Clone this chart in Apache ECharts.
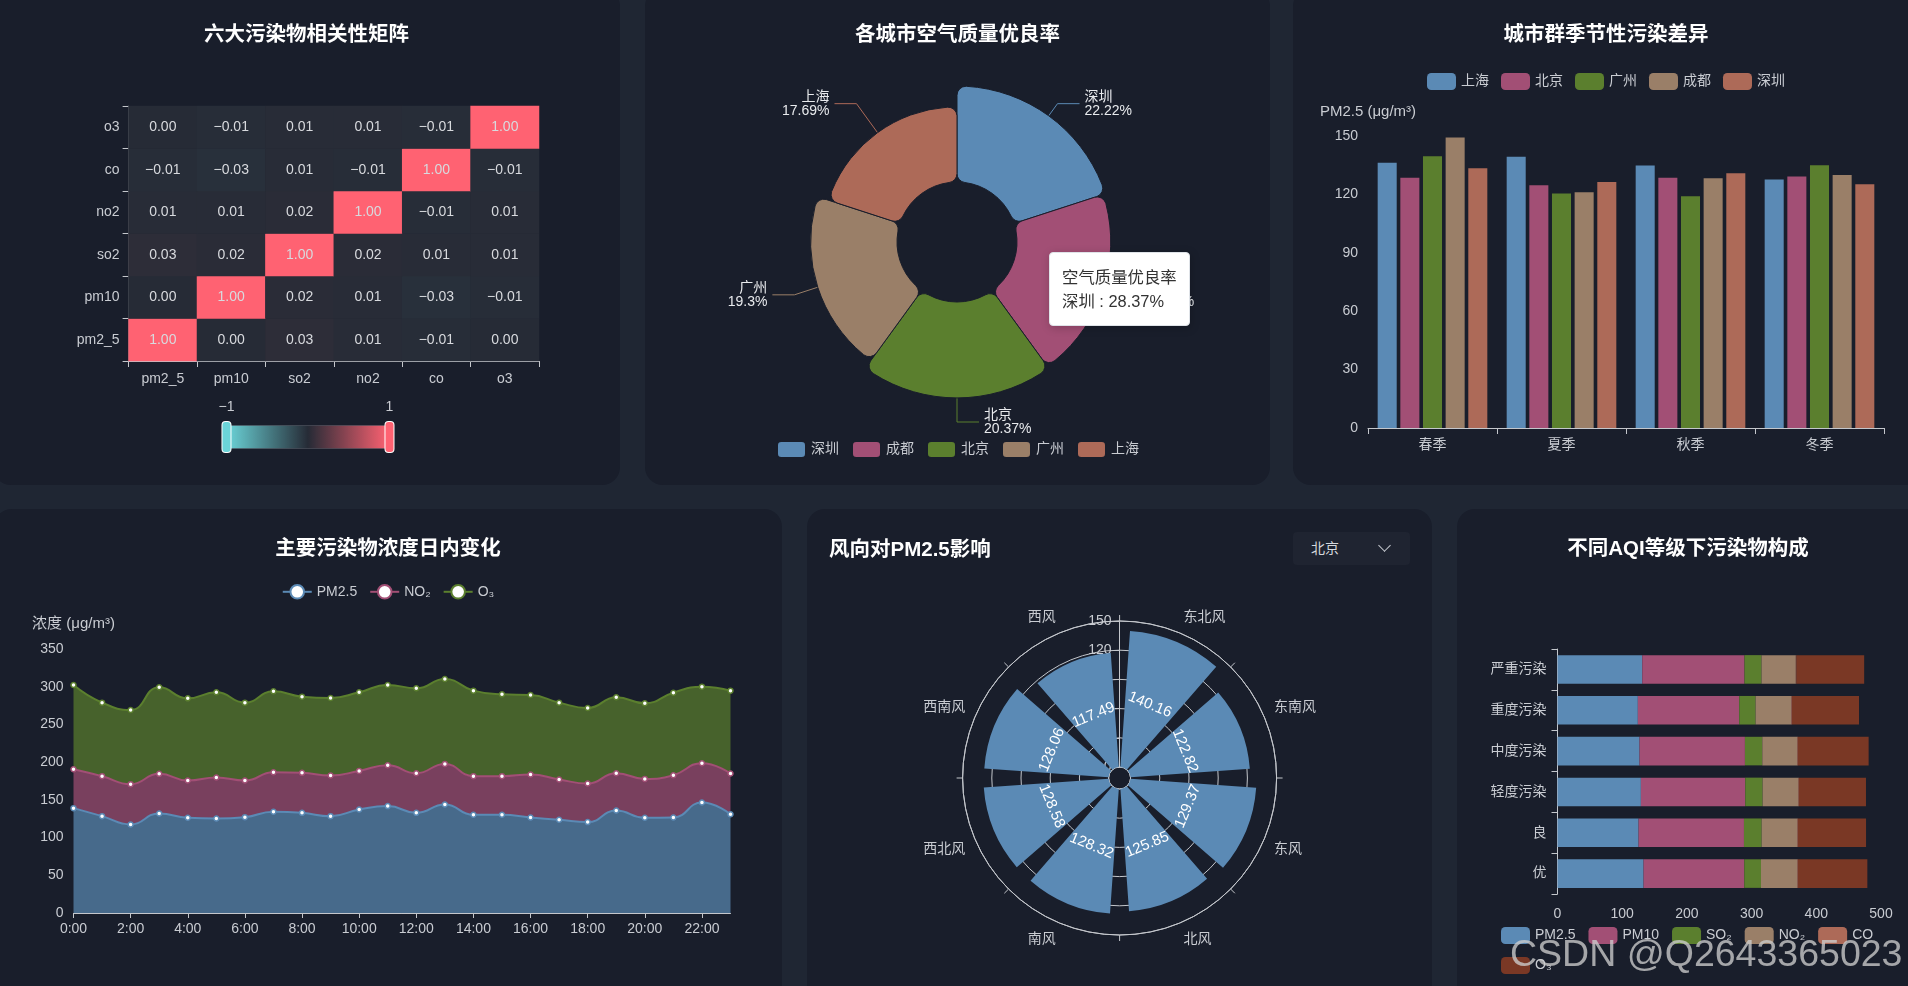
<!DOCTYPE html>
<html lang="zh">
<head>
<meta charset="UTF-8">
<title>空气质量看板</title>
<script src="https://cdn.jsdelivr.net/npm/echarts@6/dist/echarts.min.js"></script>
<style>
    * { margin: 0; padding: 0; box-sizing: border-box; }
    html, body { width: 100%; height: 100%; overflow: hidden; background: #1f2633; }
    body { font-family: "Liberation Sans", "Noto Sans CJK SC", sans-serif; }
    .panel { position: absolute; background: #191e2b; border-radius: 18px; overflow: hidden; }
    .chart { width: 100%; height: 100%; }
    #p1 { left: -7px; top: -12px; width: 627px; height: 497px; }
    #p2 { left: 645px; top: -12px; width: 625px; height: 497px; }
    #p3 { left: 1293px; top: -12px; width: 640px; height: 497px; }
    #season { width: 626px; }
    #p4 { left: -6px; top: 509px; width: 788px; height: 500px; }
    #p5 { left: 807px; top: 509px; width: 625px; height: 500px; }
    #p6 { left: 1457px; top: 509px; width: 496px; height: 500px; }
    #aqi { width: 462px; }
    .city-select {
        position: absolute; left: 486px; top: 23px; width: 117px; height: 33px;
        background: #1f2431; border-radius: 4px; color: #d5d8dd; font-size: 14px; line-height: 33px; padding-left: 18px;
    }
    .city-select i {
        position: absolute; right: 21px; top: 9px; width: 9px; height: 9px;
        border-right: 1px solid #c8ccd2; border-bottom: 1px solid #c8ccd2; transform: rotate(45deg);
    }
    .watermark {
        position: absolute; left: 1510px; top: 931px; font-size: 37.5px; line-height: 44px;
        color: rgba(205, 205, 205, 0.78); white-space: nowrap;
    }
</style>
</head>
<body>
<div class="panel" id="p1"><div class="chart" id="heat"></div></div>
<div class="panel" id="p2"><div class="chart" id="pie"></div></div>
<div class="panel" id="p3"><div class="chart" id="season"></div></div>
<div class="panel" id="p4"><div class="chart" id="daily"></div></div>
<div class="panel" id="p5"><div class="chart" id="wind"></div><div class="city-select">北京<i></i></div></div>
<div class="panel" id="p6"><div class="chart" id="aqi"></div></div>
<div class="watermark">CSDN @Q2643365023</div>

<script>
// 相关性矩阵，从 pm2_5 那一行开始往上
var pollutants = ['pm2_5', 'pm10', 'so2', 'no2', 'co', 'o3'];
var corrPm25 = [1.00, 0.00, 0.03, 0.01, -0.01, 0.00];
var corrPm10 = [0.00, 1.00, 0.02, 0.01, -0.03, -0.01];
var corrSo2 = [0.03, 0.02, 1.00, 0.02, 0.01, 0.01];
var corrNo2 = [0.01, 0.01, 0.02, 1.00, -0.01, 0.01];
var corrCo = [-0.01, -0.03, 0.01, -0.01, 1.00, -0.01];
var corrO3 = [0.00, -0.01, 0.01, 0.01, -0.01, 1.00];

// 优良率
var rateCities = ['深圳', '成都', '北京', '广州', '上海'];
var rateSizes = [22.22, 21.7, 22.2, 20.0, 17.4];
var rateLabels = ['22.22', '20.42', '20.37', '19.3', '17.69'];
var tipTitle = '空气质量优良率';
var tipText = '深圳&nbsp;:&nbsp;28.37%';

// 季节
var seasons = ['春季', '夏季', '秋季', '冬季'];
var seasonCities = ['上海', '北京', '广州', '成都', '深圳'];
var seasonShanghai = [136.2, 139.3, 134.8, 127.6];
var seasonBeijing = [128.6, 124.7, 128.6, 129.2];
var seasonGuangzhou = [139.6, 120.4, 119, 135];
var seasonChengdu = [149.2, 121.1, 128.3, 130];
var seasonShenzhen = [133.4, 126.4, 130.9, 125.2];

// 日内变化
var hours = ['0:00', '1:00', '2:00', '3:00', '4:00', '5:00', '6:00', '7:00', '8:00', '9:00', '10:00', '11:00',
    '12:00', '13:00', '14:00', '15:00', '16:00', '17:00', '18:00', '19:00', '20:00', '21:00', '22:00', '23:00'];
var hourPm25 = [139, 128.4, 117.4, 132, 126.2, 125.3, 127.1, 134.2, 132.8, 128.4, 137.2, 141.7,
    132.8, 143.9, 130.2, 130.2, 126.7, 123.6, 120.5, 135.9, 126.2, 126.7, 146.5, 131];
var hourNo2 = [51.6, 53, 53.4, 52.5, 49.4, 54.3, 48.5, 52.5, 53, 53.9, 51.2, 54.2,
    52.5, 53.8, 51.2, 51.2, 56.9, 53.4, 51.2, 49.4, 51.6, 56, 52.1, 53.9];
var hourO3 = [111.7, 97.5, 98.4, 114.7, 109, 113, 103.3, 107.2, 101, 102.8, 104.2, 106.4,
    112.6, 112.5, 113.4, 108.5, 105.4, 101.9, 100.1, 100.7, 100.2, 109.4, 101.5, 109.9];

// 风向
var windDirs = ['东北风', '东南风', '东风', '北风', '南风', '西北风', '西南风', '西风'];
var windPm25 = [140.16, 122.82, 129.37, 125.85, 128.32, 128.58, 128.06, 117.49];

// AQI 等级构成
var aqiLevels = ['优', '良', '轻度污染', '中度污染', '重度污染', '严重污染'];
var aqiPm25 = [133, 125.3, 128.9, 126.8, 124.2, 131];
var aqiPm10 = [155.7, 162.9, 161.3, 162.9, 156.7, 158];
var aqiSo2 = [25.8, 27.3, 26.8, 26.8, 25.3, 26.3];
var aqiNo2 = [56.2, 55.2, 55.2, 54.1, 55.2, 53];
var aqiCo = [1, 1, 1, 1, 1, 1];
var aqiO3 = [107.2, 105.2, 103.6, 109.3, 103.6, 104.7];

var colors = ['#5b8ab5', '#a24f75', '#5b7f2e', '#9a7f68', '#ad6a58', '#7a3825'];
var fontName = '"Liberation Sans", "Noto Sans CJK SC", sans-serif';
var textColor = '#c9ccd2';
var lineColor = '#c4c7cc';

function titleOf(text, top) {
    return { text: text, left: 'center', top: top, padding: 0, textStyle: { color: '#fff', fontSize: 20.5, fontWeight: 'bold', fontFamily: fontName } };
}
function legendStyle() {
    return { color: textColor, fontSize: 14, fontFamily: fontName };
}
function axisText() {
    return { color: textColor, fontSize: 14, fontFamily: fontName };
}
function tick() {
    return { show: true, length: 6, lineStyle: { color: lineColor } };
}

//相关性矩阵
var heat = echarts.init(document.getElementById('heat'));
var corrRows = [corrPm25, corrPm10, corrSo2, corrNo2, corrCo, corrO3];
var heatData = [];
corrRows.forEach(function (row, y) {
    row.forEach(function (v, x) { heatData.push([x, y, v]); });
});
heat.setOption({
    animation: false,
    title: titleOf('六大污染物相关性矩阵', 37),
    grid: { left: 135.6, width: 410.4, top: 118, height: 255 },
    xAxis: {
        type: 'category', data: pollutants,
        axisLine: { show: true, lineStyle: { color: lineColor } }, axisTick: tick(),
        axisLabel: Object.assign(axisText(), { margin: 11 }), splitArea: { show: false }
    },
    yAxis: {
        type: 'category', data: pollutants,
        axisLine: { show: true, lineStyle: { color: '#5c6068' } }, axisTick: tick(),
        axisLabel: Object.assign(axisText(), { margin: 9 }), splitArea: { show: false }
    },
    visualMap: {
        min: -1, max: 1, calculable: true, orient: 'horizontal', left: 'center', top: 412,
        itemWidth: 23, itemHeight: 163, padding: 0,
        handleIcon: 'path://M3,0h24a3,3 0 0 1 3,3v2a3,3 0 0 1 -3,3h-24a3,3 0 0 1 -3,-3v-2a3,3 0 0 1 3,-3z',
        handleSize: 30,
        handleStyle: { borderColor: '#fff', borderWidth: 1 },
        indicatorSize: 0,
        textStyle: axisText(),
        formatter: function (v) { return String(v).replace('-', '−'); },
        inRange: { color: ['#6bd5d9', '#262b36', '#ff6272'] }
    },
    series: [{
        type: 'heatmap', data: heatData,
        label: {
            show: true, color: '#d8dade', fontSize: 14, fontFamily: fontName,
            formatter: function (p) { return p.value[2].toFixed(2).replace('-', '−'); }
        }
    }]
});

//优良率
var pie = echarts.init(document.getElementById('pie'));
pie.setOption({
    animation: false,
    color: colors,
    title: titleOf('各城市空气质量优良率', 37),
    legend: {
        data: rateCities, bottom: 21, left: 'center', itemWidth: 29, itemHeight: 17, itemGap: 12,
        textStyle: legendStyle()
    },
    tooltip: {
        trigger: 'item', position: [404, 264], transitionDuration: 0,
        backgroundColor: '#fff', borderColor: '#dfe3e8', borderWidth: 1, padding: [12, 12],
        textStyle: { color: '#333', fontSize: 16.4, lineHeight: 24, fontFamily: fontName },
        formatter: function () { return tipTitle + '<br/>' + tipText; }
    },
    series: [{
        type: 'pie', roseType: 'area', center: [312, 254], radius: [60, 156],
        itemStyle: { borderRadius: 9, borderColor: '#191e2b', borderWidth: 1 },
        label: {
            color: '#e8eaed', fontSize: 14, lineHeight: 14, fontFamily: fontName,
            formatter: function (p) { return p.name + '\n' + rateLabels[p.dataIndex] + '%'; }
        },
        labelLine: { length: 15, length2: 22 },
        data: rateCities.map(function (c, i) {
            // 北京这条引线明显更长
            return { name: c, value: rateSizes[i], labelLine: c === '北京' ? { length: 24 } : undefined };
        })
    }]
});
pie.dispatchAction({ type: 'showTip', seriesIndex: 0, dataIndex: 0 });

//季节差异
var season = echarts.init(document.getElementById('season'));
var seasonValues = [seasonShanghai, seasonBeijing, seasonGuangzhou, seasonChengdu, seasonShenzhen];
season.setOption({
    animation: false,
    color: colors,
    title: titleOf('城市群季节性污染差异', 37),
    legend: { top: 80, left: 'center', itemWidth: 29, itemHeight: 17, itemGap: 12, textStyle: legendStyle() },
    grid: { left: 75, width: 516, top: 148, height: 292 },
    xAxis: {
        type: 'category', data: seasons,
        axisLine: { show: true, lineStyle: { color: lineColor } }, axisTick: tick(),
        axisLabel: Object.assign(axisText(), { margin: 10 })
    },
    yAxis: {
        type: 'value', min: 0, max: 150, interval: 30, name: 'PM2.5 (μg/m³)', nameGap: 17,
        nameTextStyle: { color: textColor, fontSize: 15, fontFamily: fontName },
        axisLabel: Object.assign(axisText(), { margin: 10 }),
        axisLine: { show: false }, axisTick: { show: false }, splitLine: { show: false }
    },
    series: seasonCities.map(function (c, i) {
        return { name: c, type: 'bar', data: seasonValues[i], barCategoryGap: '15%', barGap: '19%' };
    })
});

//日内变化
var daily = echarts.init(document.getElementById('daily'));
var dailyNames = ['PM2.5', 'NO₂', 'O₃'];
var dailyValues = [hourPm25, hourNo2, hourO3];
daily.setOption({
    animation: false,
    title: titleOf('主要污染物浓度日内变化', 30),
    legend: { top: 70, left: 'center', itemWidth: 29, itemHeight: 17, itemGap: 12, textStyle: legendStyle() },
    grid: { left: 79.5, width: 657, top: 140, height: 264 },
    xAxis: {
        type: 'category', data: hours, boundaryGap: false,
        axisLine: { show: true, lineStyle: { color: lineColor } },
        axisTick: { show: true, length: 5, interval: 1, lineStyle: { color: lineColor } },
        axisLabel: Object.assign(axisText(), { margin: 9, interval: 1 })
    },
    yAxis: {
        type: 'value', min: 0, max: 350, interval: 50, name: '浓度 (μg/m³)', nameGap: 18,
        nameTextStyle: { color: textColor, fontSize: 15, fontFamily: fontName },
        axisLabel: Object.assign(axisText(), { margin: 10 }),
        axisLine: { show: false }, axisTick: { show: false }, splitLine: { show: false }
    },
    series: dailyNames.map(function (n, i) {
        return {
            name: n, type: 'line', stack: 'total', smooth: true, data: dailyValues[i],
            symbol: 'circle', symbolSize: 5,
            lineStyle: { color: colors[i], width: 2 },
            itemStyle: { color: '#fff', borderColor: colors[i], borderWidth: 1.5 },
            areaStyle: { color: colors[i], opacity: 0.7 }
        };
    })
});

//风向
var wind = echarts.init(document.getElementById('wind'));
wind.setOption({
    animation: false,
    title: { text: '风向对PM2.5影响', left: 22, top: 31, padding: 0, textStyle: { color: '#fff', fontSize: 20.5, fontWeight: 'bold', fontFamily: fontName } },
    polar: { center: [312.6, 269], radius: [11, 157] },
    angleAxis: {
        type: 'category', data: windDirs, startAngle: 90,
        axisLine: { lineStyle: { color: lineColor } }, axisTick: { length: 6, lineStyle: { color: lineColor } },
        axisLabel: Object.assign(axisText(), { margin: 10 }), splitLine: { show: false }
    },
    radiusAxis: {
        min: 0, max: 150, interval: 30,
        axisLine: { lineStyle: { color: lineColor } }, axisTick: { length: 6, lineStyle: { color: lineColor } },
        axisLabel: axisText(),
        splitLine: { show: true, lineStyle: { color: lineColor } }
    },
    series: [{
        type: 'bar', coordinateSystem: 'polar', data: windPm25, barCategoryGap: '18%',
        itemStyle: { color: colors[0] },
        label: { show: true, position: 'middle', rotate: 'auto', color: '#fff', fontSize: 15, fontFamily: fontName }
    }]
});

//AQI 构成
var aqi = echarts.init(document.getElementById('aqi'));
var aqiNames = ['PM2.5', 'PM10', 'SO₂', 'NO₂', 'CO', 'O₃'];
var aqiValues = [aqiPm25, aqiPm10, aqiSo2, aqiNo2, aqiCo, aqiO3];
aqi.setOption({
    animation: false,
    color: colors,
    title: titleOf('不同AQI等级下污染物构成', 30),
    legend: { top: 413, left: 39, width: 410, itemWidth: 29, itemHeight: 17, itemGap: 13, textStyle: legendStyle() },
    grid: { left: 100.5, width: 323.5, top: 140, height: 245 },
    xAxis: {
        type: 'value', min: 0, max: 500, interval: 100,
        axisLabel: Object.assign(axisText(), { margin: 13 }),
        axisLine: { show: false }, axisTick: { show: false }, splitLine: { show: false }
    },
    yAxis: {
        type: 'category', data: aqiLevels,
        axisLine: { show: true, lineStyle: { color: lineColor } }, axisTick: tick(),
        axisLabel: Object.assign(axisText(), { margin: 11 })
    },
    series: aqiNames.map(function (n, i) {
        return { name: n, type: 'bar', stack: 'total', data: aqiValues[i], barCategoryGap: '30%' };
    })
});
</script>
</body>
</html>
